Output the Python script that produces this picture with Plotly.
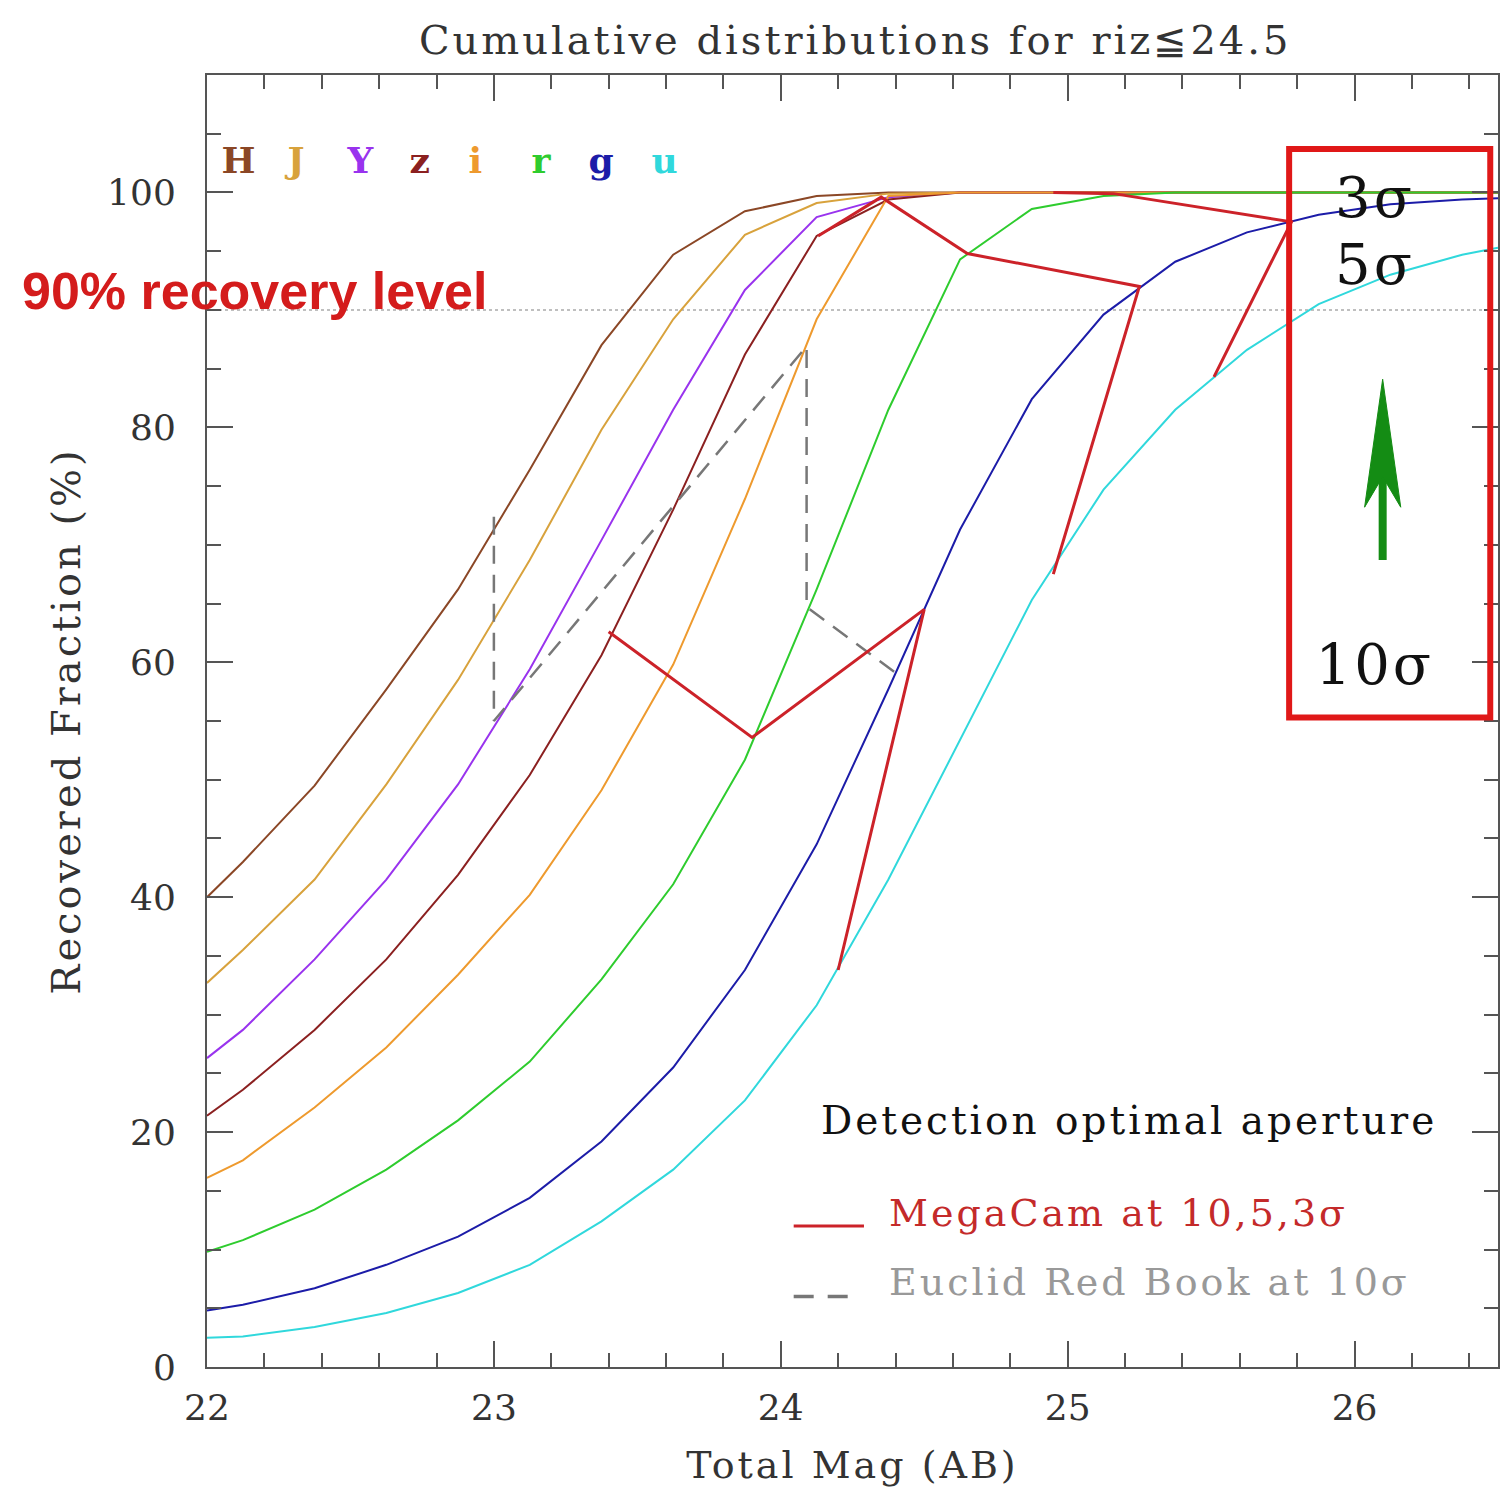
import plotly.graph_objects as go

# ---------------- data ----------------
mag = [22.0, 22.125, 22.375, 22.625, 22.875, 23.125, 23.375, 23.625, 23.875, 24.125,
       24.375, 24.625, 24.875, 25.125, 25.375, 25.625, 25.875, 26.125, 26.375, 26.5]

H = [40.0, 43.0, 49.5, 57.7, 66.2, 76.4, 87.0, 94.7, 98.4, 99.7,
     100, 100, 100, 100, 100, 100, 100, 100, 100, 100]
J = [32.7, 35.5, 41.5, 49.6, 58.5, 68.7, 79.8, 89.2, 96.4, 99.1,
     99.9, 100, 100, 100, 100, 100, 100, 100, 100, 100]
Y = [26.3, 28.7, 34.7, 41.5, 49.6, 59.4, 70.4, 81.5, 91.7, 97.9,
     99.6, 100, 100, 100, 100, 100, 100, 100, 100, 100]
z = [21.4, 23.6, 28.7, 34.7, 41.9, 50.4, 60.6, 73.0, 86.2, 96.3,
     99.4, 100, 100, 100, 100, 100, 100, 100, 100, 100]
i = [16.1, 17.6, 22.1, 27.2, 33.4, 40.2, 49.1, 59.8, 73.9, 89.2,
     99.7, 100, 100, 100, 100, 100, 100, 100, 100, 100]
r = [9.8, 10.8, 13.4, 16.8, 21.0, 26.0, 33.0, 41.1, 51.7, 66.2,
     81.5, 94.3, 98.6, 99.7, 100, 100, 100, 100, 100, 100]
g = [4.8, 5.3, 6.7, 8.7, 11.1, 14.4, 19.2, 25.5, 33.8, 44.5,
     57.7, 71.3, 82.4, 89.6, 94.1, 96.6, 98.1, 99.0, 99.4, 99.5]
u = [2.5, 2.6, 3.4, 4.6, 6.3, 8.7, 12.4, 16.8, 22.7, 30.8,
     41.5, 53.4, 65.3, 74.7, 81.5, 86.6, 90.5, 93.0, 94.7, 95.3]

bands = ["H", "J", "Y", "z", "i", "r", "g", "u"]
band_values = [H, J, Y, z, i, r, g, u]
band_colors = ["#8B4726", "#D8A23C", "#9933EE", "#8B2020",
               "#EE9A2E", "#2ECC2E", "#1C1CA8", "#30D8DC"]
band_label_x = [22.115, 22.31, 22.54, 22.745, 22.94, 23.17, 23.38, 23.6]

# MegaCam depth polylines (10, 5, 3 sigma)
mc10_x = [23.40, 23.90, 24.50, 24.20]
mc10_y = [62.6, 53.6, 64.5, 33.8]
mc5_x = [24.13, 24.35, 24.65, 25.25, 24.95]
mc5_y = [96.3, 99.6, 94.8, 92.0, 67.5]
mc3_x = [24.95, 25.16, 25.78, 25.51]
mc3_y = [100.0, 99.9, 97.5, 84.3]

# Euclid Red Book 10 sigma
eu_x = [23.0, 23.0, 24.09, 24.09, 24.40]
eu_y = [72.4, 55.0, 86.9, 64.7, 59.1]

x_ticks = [22, 23, 24, 25, 26]
y_ticks = [0, 20, 40, 60, 80, 100]

SERIF = "DejaVu Serif"
RED = "#CC2229"

fig = go.Figure()

for name, vals, col in zip(bands, band_values, band_colors):
    fig.add_trace(go.Scatter(x=mag, y=vals, mode="lines", name=name,
                             line=dict(color=col, width=2), showlegend=False))

fig.add_trace(go.Scatter(x=eu_x, y=eu_y, mode="lines", showlegend=False,
                         line=dict(color="#777777", width=2.5, dash="18px,11px")))
for xs, ys in [(mc10_x, mc10_y), (mc5_x, mc5_y), (mc3_x, mc3_y)]:
    fig.add_trace(go.Scatter(x=xs, y=ys, mode="lines", showlegend=False,
                             line=dict(color=RED, width=3)))

shapes = []
# 90% dotted line
shapes.append(dict(type="line", xref="x", yref="y", x0=22, x1=26.5, y0=90, y1=90,
                   line=dict(color="#AAAAAA", width=1.5, dash="dot"), layer="below"))
# red box
shapes.append(dict(type="rect", xref="x", yref="y", x0=25.772, x1=26.473, y0=55.3, y1=103.7,
                   line=dict(color="#E01818", width=6)))
# green arrow shaft and head
shapes.append(dict(type="line", xref="x", yref="y", x0=26.098, x1=26.098, y0=68.7, y1=76.5,
                   line=dict(color="#148C14", width=8)))
shapes.append(dict(type="path", xref="x", yref="y",
                   path="M 26.098 84.1 L 26.035 73.2 L 26.098 75.8 L 26.161 73.2 Z",
                   fillcolor="#148C14", line=dict(color="#148C14", width=1)))
# legend samples
shapes.append(dict(type="line", xref="x", yref="y", x0=24.045, x1=24.29, y0=12.0, y1=12.0,
                   line=dict(color=RED, width=3)))
shapes.append(dict(type="line", xref="x", yref="y", x0=24.045, x1=24.245, y0=6.0, y1=6.0,
                   line=dict(color="#777777", width=3.5, dash="20px,14px")))

annotations = []
for b, col, bx in zip(bands, band_colors, band_label_x):
    annotations.append(dict(x=bx, y=102.8, xref="x", yref="y", text="<b>%s</b>" % b,
                            showarrow=False, font=dict(family=SERIF, size=36, color=col)))
annotations.append(dict(x=-0.1446, y=91.6, xref="paper", yref="y", xanchor="left",
                        text="<b>90% recovery level</b>", showarrow=False, align="left",
                        font=dict(family="Liberation Sans", size=52, color="#D41C1C")))
for t, yy in [("3σ", 99.6), ("5σ", 93.9), ("10σ", 59.8)]:
    annotations.append(dict(x=26.07, y=yy, xref="x", yref="y", text=t, showarrow=False,
                            font=dict(family=SERIF, size=56, color="#111111")))
annotations.append(dict(x=24.132, y=21.0, xref="x", yref="y", xanchor="left", align="left",
                        text="Detection optimal aperture", showarrow=False,
                        font=dict(family=SERIF, size=39, color="#111111")))
annotations.append(dict(x=24.369, y=13.1, xref="x", yref="y", xanchor="left", align="left",
                        text="MegaCam at 10,5,3σ", showarrow=False,
                        font=dict(family=SERIF, size=38, color="#C42A2A")))
annotations.append(dict(x=24.369, y=7.2, xref="x", yref="y", xanchor="left", align="left",
                        text="Euclid Red Book at 10σ", showarrow=False,
                        font=dict(family=SERIF, size=38, color="#999999")))

fig.update_layout(
    width=1503, height=1496,
    margin=dict(l=207, r=3, t=75, b=129),
    paper_bgcolor="white", plot_bgcolor="white",
    title=dict(text="Cumulative distributions for riz≦24.5", x=0.569, xanchor="center",
               y=0.973, yanchor="middle",
               font=dict(family=SERIF, size=40, color="#333333")),
    shapes=shapes, annotations=annotations,
    showlegend=False,
)
fig.update_xaxes(range=[22, 26.5], tickvals=x_ticks, ticktext=[str(v) for v in x_ticks],
                 ticks="inside", ticklen=26, tickwidth=1.5, tickcolor="#555555",
                 minor=dict(dtick=0.2, tick0=22, ticks="inside", ticklen=14, tickcolor="#555555", tickwidth=1.5),
                 showline=True, linecolor="#555555", linewidth=2, mirror="allticks",
                 showgrid=False, zeroline=False,
                 tickfont=dict(family=SERIF, size=36, color="#333333"),
                 ticklabelstandoff=8,
                 title=dict(text="Total Mag (AB)", standoff=24,
                            font=dict(family=SERIF, size=38, color="#333333")))
fig.update_yaxes(range=[0, 110], tickvals=y_ticks, ticktext=[str(v) for v in y_ticks],
                 ticks="inside", ticklen=26, tickwidth=1.5, tickcolor="#555555",
                 minor=dict(dtick=5, tick0=0, ticks="inside", ticklen=14, tickcolor="#555555", tickwidth=1.5),
                 showline=True, linecolor="#555555", linewidth=2, mirror="allticks",
                 showgrid=False, zeroline=False,
                 tickfont=dict(family=SERIF, size=36, color="#333333"),
                 ticklabelstandoff=22,
                 title=dict(text="Recovered Fraction (%)", standoff=14,
                            font=dict(family=SERIF, size=40, color="#333333")))

post = """
(function(){
  function sp(){
    document.querySelectorAll('text.gtitle, text.xtitle, text.ytitle, text.annotation-text').forEach(function(e){
      if (e.textContent.indexOf('recovery') < 0) { e.style.letterSpacing = '3px'; }
    });
  }
  sp();
  setTimeout(sp, 30);
  var gd = document.getElementById('{plot_id}');
  if (gd && gd.on) { gd.on('plotly_afterplot', sp); }
})();
"""

fig.write_html("out.html", post_script=post)
